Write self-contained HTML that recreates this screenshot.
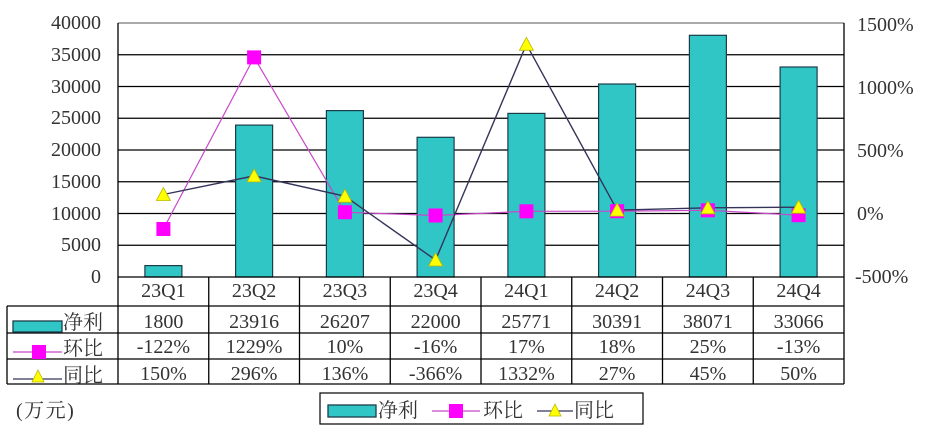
<!DOCTYPE html>
<html><head><meta charset="utf-8"><style>
html,body{margin:0;padding:0;background:#fff;}
svg{display:block;}
text{font-family:"Liberation Serif","Noto Serif CJK SC","Noto Sans CJK SC",serif;font-size:20px;fill:#333;}
</style></head><body>
<svg width="926" height="442" viewBox="0 0 926 442" xmlns="http://www.w3.org/2000/svg">
<rect width="926" height="442" fill="#fff"/>
<!-- gridlines -->
<g stroke="#000" stroke-width="1.2">
<line x1="118" y1="54.75" x2="844" y2="54.75"/>
<line x1="118" y1="86.5" x2="844" y2="86.5"/>
<line x1="118" y1="118.25" x2="844" y2="118.25"/>
<line x1="118" y1="150" x2="844" y2="150"/>
<line x1="118" y1="181.75" x2="844" y2="181.75"/>
<line x1="118" y1="213.5" x2="844" y2="213.5"/>
<line x1="118" y1="245.25" x2="844" y2="245.25"/>
</g>
<line x1="118" y1="23" x2="844" y2="23" stroke="#777" stroke-width="1.2"/>
<!-- bars -->
<g fill="#30c6c6" stroke="#1b3d4a" stroke-width="1.2">
<rect x="144.9" y="265.6" width="37" height="11.4"/>
<rect x="235.6" y="125.1" width="37" height="151.9"/>
<rect x="326.4" y="110.6" width="37" height="166.4"/>
<rect x="417.1" y="137.3" width="37" height="139.7"/>
<rect x="507.9" y="113.4" width="37" height="163.6"/>
<rect x="598.6" y="84.0" width="37" height="193.0"/>
<rect x="689.4" y="35.3" width="37" height="241.7"/>
<rect x="780.1" y="67.0" width="37" height="210.0"/>
</g>
<!-- lines -->
<polyline fill="none" stroke="#c848c8" stroke-width="1.2" points="163.4,229 254.1,57.4 344.9,212.2 435.6,215.5 526.4,211.3 617.1,211.2 707.9,210.3 798.6,215.2"/>
<polyline fill="none" stroke="#34345a" stroke-width="1.4" points="163.4,194.5 254.1,175.9 344.9,196.2 435.6,260 526.4,44.3 617.1,210.1 707.9,207.8 798.6,207.2"/>
<!-- square markers -->
<g fill="#ff00ff">
<rect x="156.4" y="222" width="14" height="14"/>
<rect x="247.1" y="50.4" width="14" height="14"/>
<rect x="337.9" y="205.2" width="14" height="14"/>
<rect x="428.6" y="208.5" width="14" height="14"/>
<rect x="519.4" y="204.3" width="14" height="14"/>
<rect x="610.1" y="204.2" width="14" height="14"/>
<rect x="700.9" y="203.3" width="14" height="14"/>
<rect x="791.6" y="208.2" width="14" height="14"/>
</g>
<!-- triangle markers -->
<g fill="#ffff00" stroke="#b8b800" stroke-width="0.8">
<polygon points="163.4,187.5 170.4,200.5 156.4,200.5"/>
<polygon points="254.1,168.9 261.1,181.9 247.1,181.9"/>
<polygon points="344.9,189.2 351.9,202.2 337.9,202.2"/>
<polygon points="435.6,253 442.6,266 428.6,266"/>
<polygon points="526.4,37.3 533.4,50.3 519.4,50.3"/>
<polygon points="617.1,203.1 624.1,216.1 610.1,216.1"/>
<polygon points="707.9,200.8 714.9,213.8 700.9,213.8"/>
<polygon points="798.6,200.2 805.6,213.2 791.6,213.2"/>
</g>
<!-- table lines -->
<g stroke="#000" stroke-width="1.3">
<line x1="118" y1="277" x2="844" y2="277"/>
<line x1="7" y1="306" x2="844" y2="306"/>
<line x1="7" y1="333" x2="844" y2="333"/>
<line x1="7" y1="359" x2="844" y2="359"/>
<line x1="7" y1="384" x2="844" y2="384"/>
<line x1="7" y1="306" x2="7" y2="384"/>
<line x1="118" y1="23" x2="118" y2="384"/>
<line x1="844" y1="23" x2="844" y2="384"/>
<line x1="208.75" y1="277" x2="208.75" y2="384"/>
<line x1="299.5" y1="277" x2="299.5" y2="384"/>
<line x1="390.25" y1="277" x2="390.25" y2="384"/>
<line x1="481" y1="277" x2="481" y2="384"/>
<line x1="571.75" y1="277" x2="571.75" y2="384"/>
<line x1="662.5" y1="277" x2="662.5" y2="384"/>
<line x1="753.25" y1="277" x2="753.25" y2="384"/>
</g>
<!-- left axis labels -->
<g text-anchor="end">
<text x="101" y="29">40000</text>
<text x="101" y="61">35000</text>
<text x="101" y="93">30000</text>
<text x="101" y="124">25000</text>
<text x="101" y="156">20000</text>
<text x="101" y="188">15000</text>
<text x="101" y="220">10000</text>
<text x="101" y="251">5000</text>
<text x="101" y="283">0</text>
</g>
<!-- right axis labels -->
<g>
<text x="857" y="31">1500%</text>
<text x="857" y="94">1000%</text>
<text x="857" y="157">500%</text>
<text x="857" y="220">0%</text>
<text x="855" y="283">-500%</text>
</g>
<!-- table text -->
<g text-anchor="middle">
<text x="163.4" y="297">23Q1</text><text x="254.1" y="297">23Q2</text><text x="344.9" y="297">23Q3</text><text x="435.6" y="297">23Q4</text>
<text x="526.4" y="297">24Q1</text><text x="617.1" y="297">24Q2</text><text x="707.9" y="297">24Q3</text><text x="798.6" y="297">24Q4</text>
<text x="163.4" y="328">1800</text><text x="254.1" y="328">23916</text><text x="344.9" y="328">26207</text><text x="435.6" y="328">22000</text>
<text x="526.4" y="328">25771</text><text x="617.1" y="328">30391</text><text x="707.9" y="328">38071</text><text x="798.6" y="328">33066</text>
<text x="163.4" y="353">-122%</text><text x="254.1" y="353">1229%</text><text x="344.9" y="353">10%</text><text x="435.6" y="353">-16%</text>
<text x="526.4" y="353">17%</text><text x="617.1" y="353">18%</text><text x="707.9" y="353">25%</text><text x="798.6" y="353">-13%</text>
<text x="163.4" y="380">150%</text><text x="254.1" y="380">296%</text><text x="344.9" y="380">136%</text><text x="435.6" y="380">-366%</text>
<text x="526.4" y="380">1332%</text><text x="617.1" y="380">27%</text><text x="707.9" y="380">45%</text><text x="798.6" y="380">50%</text>
</g>
<!-- row labels -->
<rect x="13" y="321" width="49" height="11" fill="#30c6c6" stroke="#1b3d4a" stroke-width="1.3"/>
<text x="63" y="329">净利</text>
<line x1="13" y1="352" x2="62" y2="352" stroke="#c848c8" stroke-width="1.2"/>
<rect x="32" y="345" width="14" height="14" fill="#ff00ff"/>
<text x="63" y="355">环比</text>
<line x1="13" y1="379" x2="62" y2="379" stroke="#34345a" stroke-width="1.3"/>
<polygon points="38,370 44,382 32,382" fill="#ffff00" stroke="#b8b800" stroke-width="0.8"/>
<text x="63" y="382">同比</text>
<!-- unit -->
<text x="16" y="417" letter-spacing="1.5">(万元)</text>
<!-- legend -->
<rect x="320" y="393" width="323" height="31" fill="#fff" stroke="#000" stroke-width="1.2"/>
<rect x="328" y="405" width="48" height="12" fill="#30c6c6" stroke="#1b3d4a" stroke-width="1.3"/>
<text x="378" y="417">净利</text>
<line x1="432" y1="411" x2="480" y2="411" stroke="#c848c8" stroke-width="1.2"/>
<rect x="449" y="404" width="14" height="14" fill="#ff00ff"/>
<text x="483" y="417">环比</text>
<line x1="537" y1="411" x2="573" y2="411" stroke="#34345a" stroke-width="1.3"/>
<polygon points="555,404 561,416 549,416" fill="#ffff00" stroke="#b8b800" stroke-width="0.8"/>
<text x="574" y="417">同比</text>
</svg>
</body></html>
